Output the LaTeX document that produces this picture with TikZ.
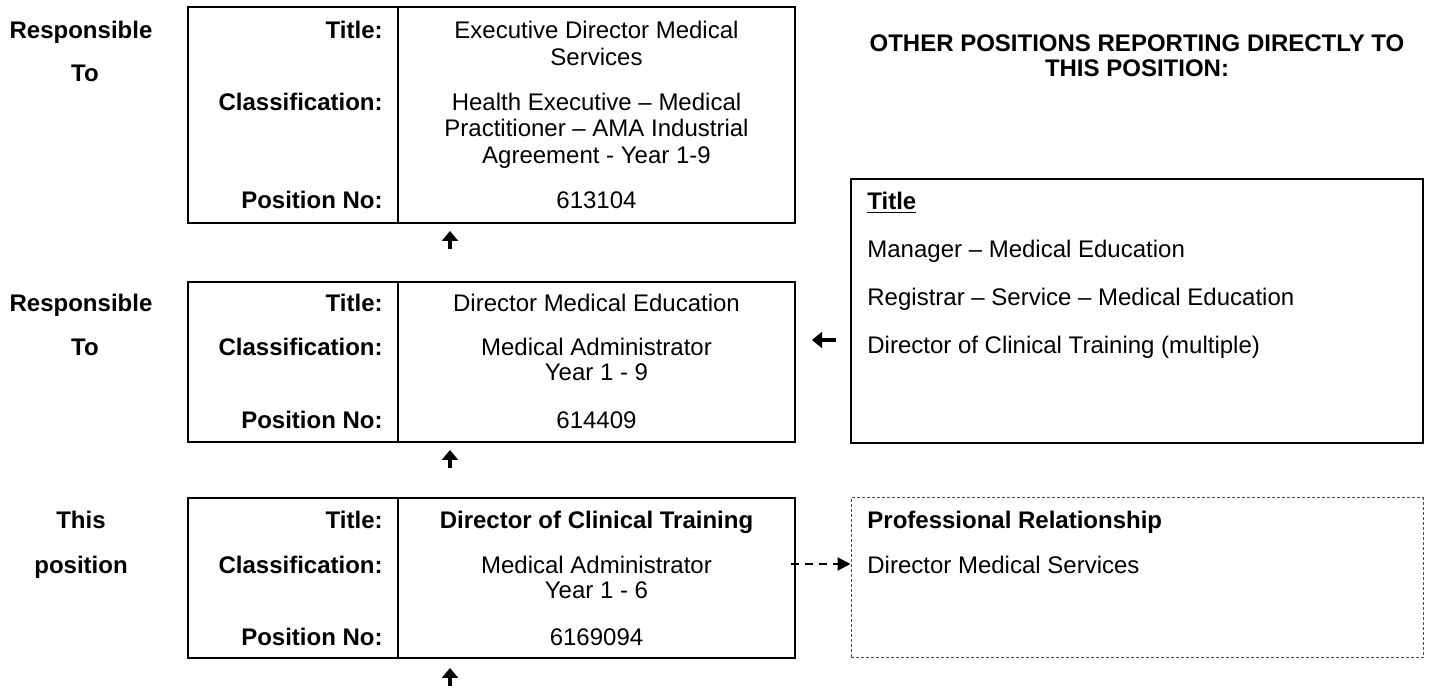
\documentclass[tikz,border=0pt]{standalone}
\usepackage{fontspec}
\setmainfont{Liberation Sans}
\usetikzlibrary{arrows.meta}
\begin{document}
\begin{tikzpicture}[x=0.5pt,y=-0.5pt,
  txt/.style={font=\fontsize{12}{13}\selectfont, inner sep=0pt},
  bld/.style={inner sep=0pt, font=\fontsize{12}{13}\selectfont\bfseries},
  posbox/.style={draw, line width=1pt, minimum width=303.5pt, inner sep=0pt},
  sidebox/.style={draw, line width=1pt, minimum width=286pt, inner sep=0pt},
  relbox/.style={draw=black!70, line width=0.5pt, dash pattern=on 1.5pt off 1pt, minimum width=286pt, inner sep=0pt},
  lbl/.style={bld, anchor=base east},
  val/.style={txt, anchor=base},
  bval/.style={bld, anchor=base},
  sidelbl/.style={bld, anchor=base},
  item/.style={txt, anchor=base west},
  bitem/.style={bld, anchor=base west},
  divider/.style={line width=1pt},
  uparr/.style={line width=1.8pt, -{Triangle[width=8pt,length=5pt]}},
  relarr/.style={line width=1.1pt, dash pattern=on 4pt off 3pt, -{Triangle[width=6.5pt,length=6.5pt]}}
]
\useasboundingbox (0,0) rectangle (1431,688);

% boxes
\node[posbox, minimum height=108pt] (boxA) at (491.5,115) {};
\node[posbox, minimum height=80pt] (boxB) at (491.5,362) {};
\node[posbox, minimum height=80pt] (boxC) at (491.5,578) {};
\node[sidebox, minimum height=132pt] (boxR) at (1137,311) {};
\node[relbox, minimum height=80pt] (boxP) at (1137,578) {};

% dividers
\coordinate (col) at (398,0);
\draw[divider] (boxA.north -| col) -- (boxA.south -| col);
\draw[divider] (boxB.north -| col) -- (boxB.south -| col);
\draw[divider] (boxC.north -| col) -- (boxC.south -| col);

% left side labels
\node[sidelbl] (respA) at (81,38.5) {Responsible};
\node[sidelbl] (toA) at (85,81.5) {To};
\node[sidelbl] (respB) at (81,311.5) {Responsible};
\node[sidelbl] (toB) at (85,355.5) {To};
\node[sidelbl] (thisC) at (81,528.5) {This};
\node[sidelbl] (posC) at (81,573.5) {position};

% box A
\node[lbl] (tA) at (383,38.5) {Title:};
\node[lbl] (cA) at (383,110.5) {Classification:};
\node[lbl] (pA) at (383,208.5) {Position No:};
\node[val] (tvA1) at (596.5,38.5) {Executive Director Medical};
\node[val] (tvA2) at (596.5,66) {Services};
\node[val] (cvA1) at (596.5,110.5) {Health Executive -- Medical};
\node[val] (cvA2) at (596.5,137) {Practitioner -- AMA Industrial};
\node[val] (cvA3) at (596.5,163.5) {Agreement - Year 1-9};
\node[val] (pvA) at (596.5,208.5) {613104};

% box B
\node[lbl] (tB) at (383,311.5) {Title:};
\node[lbl] (cB) at (383,355.5) {Classification:};
\node[lbl] (pB) at (383,428.5) {Position No:};
\node[val] (tvB) at (596.5,311.5) {Director Medical Education};
\node[val] (cvB1) at (596.5,355.5) {Medical Administrator};
\node[val] (cvB2) at (596.5,381) {Year 1 - 9};
\node[val] (pvB) at (596.5,428.5) {614409};

% box C
\node[lbl] (tC) at (383,528.5) {Title:};
\node[lbl] (cC) at (383,573.5) {Classification:};
\node[lbl] (pC) at (383,645.5) {Position No:};
\node[bval] (tvC) at (596.5,528.5) {Director of Clinical Training};
\node[val] (cvC1) at (596.5,573.5) {Medical Administrator};
\node[val] (cvC2) at (596.5,599) {Year 1 - 6};
\node[val] (pvC) at (596.5,645.5) {6169094};

% heading
\node[bval] (head1) at (1137,52) {OTHER POSITIONS REPORTING DIRECTLY TO};
\node[bval] (head2) at (1137,77) {THIS POSITION:};

% right box items
\node[bitem] (rt) at (867,209.5) {\underline{Title}};
\node[item] (r1) at (867,257.5) {Manager -- Medical Education};
\node[item] (r2) at (867,305.5) {Registrar -- Service -- Medical Education};
\node[item] (r3) at (867,353.5) {Director of Clinical Training (multiple)};

% professional relationship
\node[bitem] (pr) at (867,528.5) {Professional Relationship};
\node[item] (pr1) at (867,573.5) {Director Medical Services};

% arrows
\coordinate (aAs) at (450,249);
\coordinate (aAe) at (450,231);
\coordinate (aBs) at (450,468);
\coordinate (aBe) at (450,450);
\coordinate (aCs) at (450,686);
\coordinate (aCe) at (450,668);
\draw[uparr] (aAs) -- (aAe);
\draw[uparr] (aBs) -- (aBe);
\draw[uparr] (aCs) -- (aCe);

\coordinate (lArS) at (836,340);
\coordinate (lArE) at (812,340);
\draw[uparr] (lArS) -- (lArE);

\coordinate (dS) at (791,564);
\draw[relarr] (dS) -- (boxP.west |- dS);
\end{tikzpicture}
\end{document}
